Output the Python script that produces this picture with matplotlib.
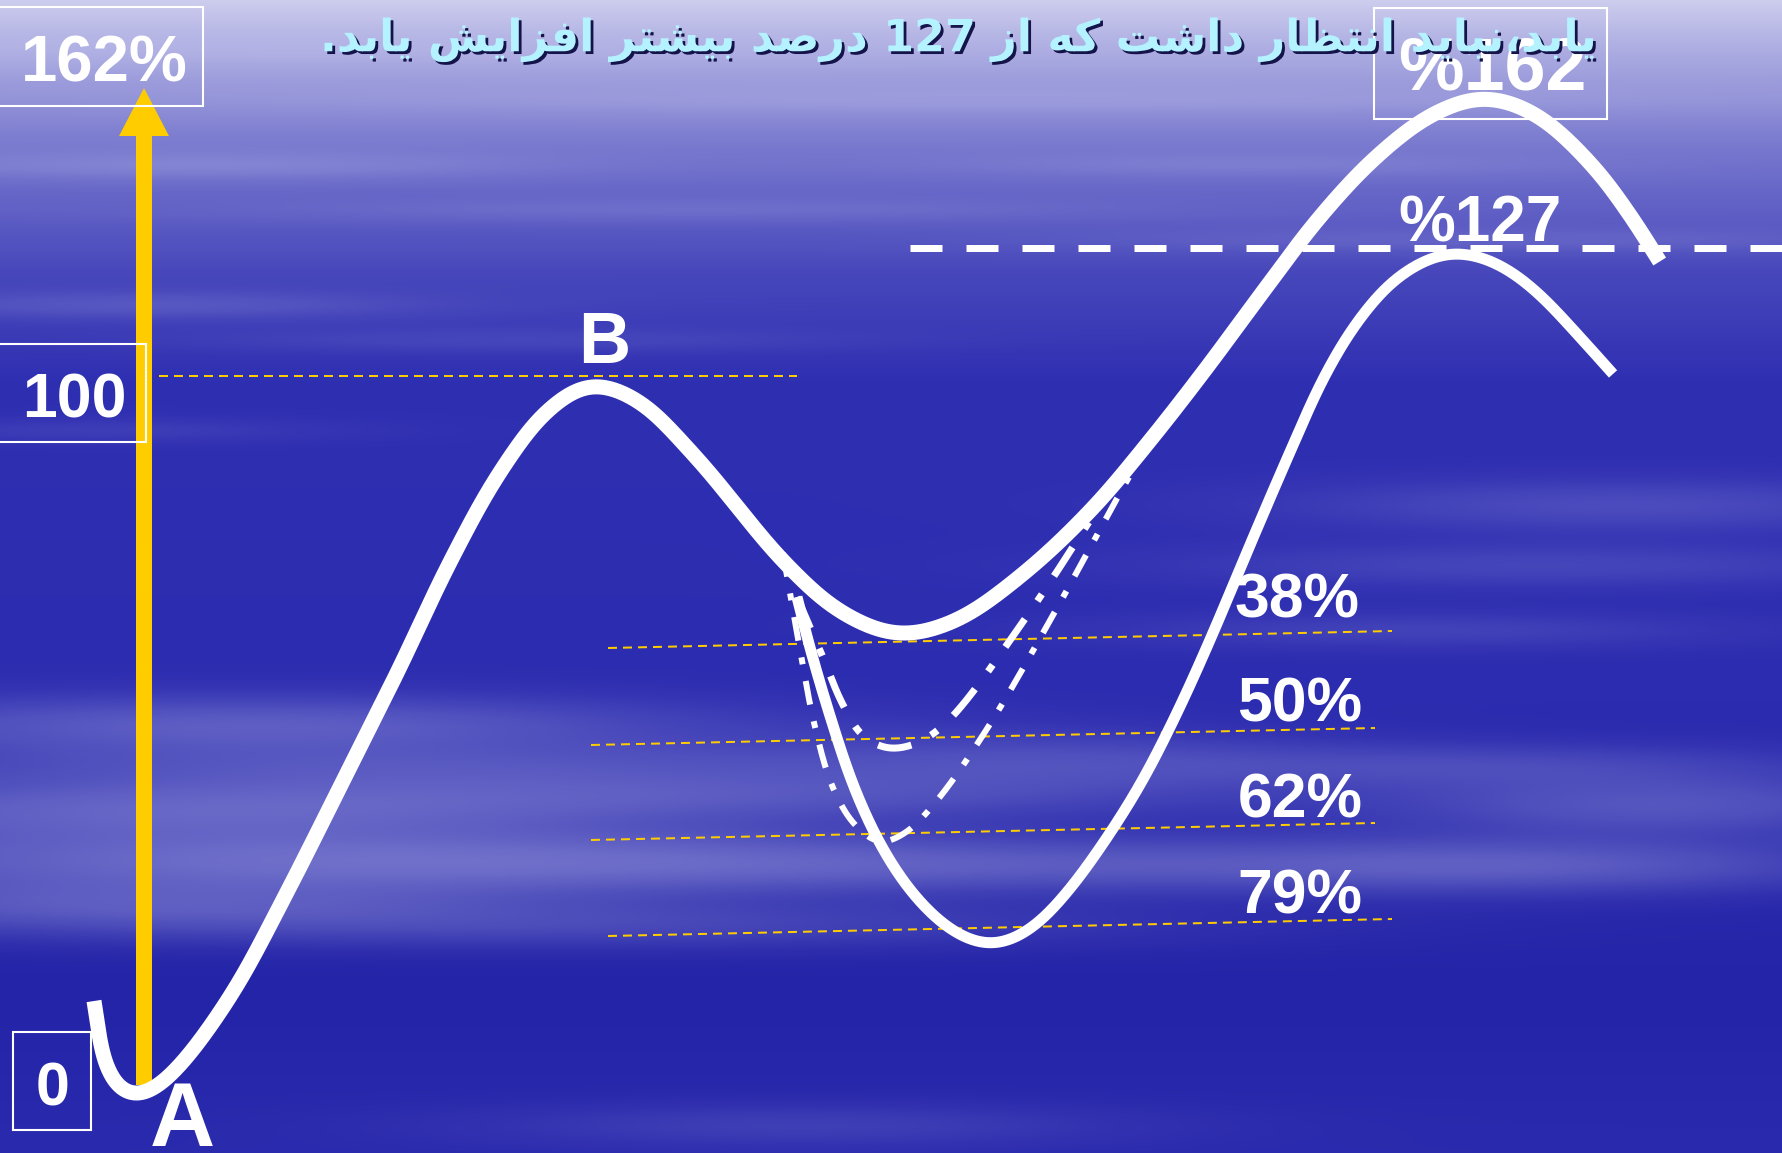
import re
import unicodedata
import numpy as np
import matplotlib
matplotlib.use("Agg")
import matplotlib.pyplot as plt
import matplotlib.patheffects as pe
from matplotlib.patches import Rectangle, FancyArrow

plt.rcParams['lines.scale_dashes'] = False

W, H = 1783, 1153

# price path A -> B -> retracement -> extension (canvas units, y grows downward)
main_x = [94, 105, 119, 134, 154, 182, 233, 284, 341, 398, 450, 500, 548, 591, 637,
          694, 785, 841, 898, 955, 1023, 1092, 1148, 1205, 1262, 1319, 1376, 1433,
          1484, 1535, 1592, 1632, 1660]
main_y = [1001, 1063, 1089, 1097, 1089, 1063, 992, 898, 785, 671, 562, 472, 410, 385, 400,
          455, 563, 612, 634, 621, 574, 509, 443, 370, 293, 218, 157, 114,
          98, 114, 165, 218, 262]

# deep 79% retracement leg that tops out at 127%
deep_x = [797, 810, 830, 855, 885, 918, 955, 992, 1030, 1065, 1100, 1140, 1176,
          1210, 1250, 1290, 1325, 1360, 1400, 1450, 1495, 1535, 1578, 1614]
deep_y = [597, 648, 716, 790, 853, 900, 933, 946, 930, 895, 848, 785, 715,
          640, 545, 452, 375, 318, 275, 252, 262, 290, 335, 375]

# alternative 50% and 62% retracements
r50_x = [797, 822, 842, 862, 887, 915, 947, 1027, 1100]
r50_y = [597, 655, 703, 735, 748, 744, 722, 616, 505]
r62_x = [783, 797, 815, 833, 855, 880, 905, 935, 985, 1052, 1115, 1150]
r62_y = [553, 633, 727, 788, 825, 842, 833, 803, 732, 617, 502, 440]

# fibonacci guide lines: (x0, y0, x1, y1)
fib_names = ['38%', '50%', '62%', '79%']
fib_lines = [(608, 648, 1392, 631), (591, 745, 1375, 728),
             (591, 840, 1375, 823), (608, 936, 1392, 919)]
fib_label_pos = [(1297, 618), (1300, 722), (1300, 818), (1300, 913)]
level_100 = (159, 376, 797, 376)
level_127_y = 248

title = 'یابد،نباید انتظار داشت که از 127 درصد بیشتر افزایش یابد.'

# background gradient stops and cloud streaks (cx, cy, sx, sy, strength)
bg_stops_y = [0, 40, 150, 270, 380, 700, 1000, 1153]
bg_stops_rgb = [(205, 205, 238), (178, 178, 228), (118, 118, 206), (72, 72, 188),
                (47, 47, 178), (44, 44, 176), (36, 36, 168), (42, 42, 174)]
clouds = [
    (300, 50, 560, 16, 0.22), (1000, 100, 700, 14, 0.20), (200, 165, 340, 14, 0.24),
    (700, 210, 460, 12, 0.14), (1500, 240, 420, 12, 0.14), (150, 305, 280, 14, 0.18),
    (520, 340, 340, 12, 0.10), (100, 430, 240, 12, 0.10), (1250, 165, 320, 12, 0.15),
    (1620, 505, 340, 26, 0.20), (1540, 565, 380, 22, 0.16), (1420, 630, 320, 18, 0.14),
    (250, 725, 480, 30, 0.32), (450, 765, 620, 26, 0.22), (180, 810, 540, 34, 0.34),
    (720, 795, 520, 24, 0.20), (320, 860, 640, 36, 0.38), (920, 865, 600, 26, 0.24),
    (130, 905, 440, 28, 0.28), (620, 925, 540, 24, 0.18), (1520, 865, 340, 28, 0.28),
    (1660, 805, 280, 32, 0.28), (1470, 765, 340, 22, 0.18), (800, 1125, 340, 22, 0.14),
    (1050, 760, 260, 32, 0.15),
]


def catmull(xs, ys, n=30, alpha=0.5):
    P = np.column_stack([xs, ys]).astype(float)
    P = np.vstack([2 * P[0] - P[1], P, 2 * P[-1] - P[-2]])
    out = []
    for i in range(1, len(P) - 2):
        p0, p1, p2, p3 = P[i - 1], P[i], P[i + 1], P[i + 2]
        t0 = 0.0
        t1 = t0 + np.linalg.norm(p1 - p0) ** alpha
        t2 = t1 + np.linalg.norm(p2 - p1) ** alpha
        t3 = t2 + np.linalg.norm(p3 - p2) ** alpha
        t = np.linspace(t1, t2, n, endpoint=False)[:, None]
        a1 = (t1 - t) / (t1 - t0) * p0 + (t - t0) / (t1 - t0) * p1
        a2 = (t2 - t) / (t2 - t1) * p1 + (t - t1) / (t2 - t1) * p2
        a3 = (t3 - t) / (t3 - t2) * p2 + (t - t2) / (t3 - t2) * p3
        b1 = (t2 - t) / (t2 - t0) * a1 + (t - t0) / (t2 - t0) * a2
        b2 = (t3 - t) / (t3 - t1) * a2 + (t - t1) / (t3 - t1) * a3
        out.append((t2 - t) / (t2 - t1) * b1 + (t - t1) / (t2 - t1) * b2)
    out.append(P[-2:-1])
    return np.vstack(out)


def smooth(xs, ys, sigma=14.0, step=1.5):
    c = catmull(xs, ys)
    d = np.r_[0, np.cumsum(np.hypot(*np.diff(c, axis=0).T))]
    s = np.arange(0, d[-1], step)
    c = np.column_stack([np.interp(s, d, c[:, 0]), np.interp(s, d, c[:, 1])])
    k = int(3 * sigma / step)
    g = np.exp(-0.5 * (np.arange(-k, k + 1) * step / sigma) ** 2)
    g /= g.sum()
    pad_l = 2 * c[0] - c[1:k + 1][::-1]
    pad_r = 2 * c[-1] - c[-k - 1:-1][::-1]
    cp = np.vstack([pad_l, c, pad_r])
    sm = np.column_stack([np.convolve(cp[:, j], g, mode='valid') for j in range(2)])
    return sm[:, 0], sm[:, 1]


RIGHT_JOIN = set('اآأإدذرزژو')


def is_letter(ch):
    return ch != '' and '\u0600' <= ch <= '\u06ff' and unicodedata.category(ch) == 'Lo'


def shape_rtl(text):
    out = []
    for i, ch in enumerate(text):
        if not is_letter(ch):
            out.append(ch)
            continue
        prev = text[i - 1] if i > 0 else ''
        nxt = text[i + 1] if i < len(text) - 1 else ''
        lp = is_letter(prev) and prev not in RIGHT_JOIN
        ln = is_letter(nxt) and ch not in RIGHT_JOIN
        form = {(False, False): 'ISOLATED', (True, False): 'FINAL',
                (False, True): 'INITIAL', (True, True): 'MEDIAL'}[(lp, ln)]
        try:
            out.append(unicodedata.lookup(unicodedata.name(ch) + ' ' + form + ' FORM'))
        except KeyError:
            out.append(ch)
    vis = ''.join(out)[::-1]
    return re.sub(r'[0-9]+', lambda m: m.group(0)[::-1], vis)


# background
yy, xx = np.mgrid[0:H, 0:W].astype(float)
base = np.stack([np.interp(yy[:, 0], bg_stops_y, [c[k] for c in bg_stops_rgb]) for k in range(3)], axis=-1)
img = np.repeat(base[:, None, :], W, axis=1)
keep = np.ones((H, W))
for cx, cy, sx, sy, a in clouds:
    keep *= 1 - a * np.exp(-((xx - cx) / sx) ** 2 - ((yy - cy) / sy) ** 2)
haze = 1 - keep
cloud_rgb = np.array([195, 195, 238.0])
img = img + haze[..., None] * (cloud_rgb - img)
img = np.clip(img / 255.0, 0, 1)

fig = plt.figure(figsize=(W / 100, H / 100), dpi=100)
ax = fig.add_axes([0, 0, 1, 1])
ax.imshow(img, extent=(0, W, H, 0), interpolation='bilinear', zorder=0)
ax.set_xlim(0, W)
ax.set_ylim(H, 0)
ax.axis('off')

gold = '#FFCC00'
px = 0.72  # pixels -> points at 100 dpi

# yellow guide lines
for x0, y0, x1, y1 in fib_lines + [level_100]:
    ax.plot([x0, x1], [y0, y1], color=gold, lw=2 * px, dashes=(9 * px, 6 * px), zorder=2)

# 127% extension line
ax.plot([910, W], [level_127_y, level_127_y], color='white', lw=7 * px,
        dashes=(32 * px, 24 * px), solid_capstyle='butt', zorder=3)

# vertical scale arrow
ax.add_patch(FancyArrow(144, 1085, 0, -997, width=16, head_width=50, head_length=48,
                        length_includes_head=True, color=gold, lw=0, zorder=2))

# label boxes
for x, y, w, h in [(-2, 7, 205, 99), (-2, 344, 148, 98), (13, 1032, 78, 98), (1374, 8, 233, 111)]:
    ax.add_patch(Rectangle((x, y), w, h, fill=False, ec='white', lw=1.5, zorder=3))

# price curves
sx, sy = smooth(main_x, main_y)
ax.plot(sx, sy, color='white', lw=15 * px, solid_capstyle='butt', zorder=5)
dx, dy = smooth(deep_x, deep_y, sigma=18)
ax.plot(dx, dy, color='white', lw=11 * px, solid_capstyle='butt', zorder=5)
ax_, ay_ = smooth(r50_x, r50_y, sigma=6)
ax.plot(ax_, ay_, color='white', lw=7 * px, dashes=(34 * px, 22 * px, 8 * px, 22 * px),
        dash_capstyle='butt', zorder=4)
bx, by = smooth(r62_x, r62_y, sigma=6)
ax.plot(bx, by, color='white', lw=6 * px, dashes=(24 * px, 17 * px, 7 * px, 17 * px),
        dash_capstyle='butt', zorder=4)

bold = dict(color='white', fontweight='bold', family='Liberation Sans', zorder=6)
ax.text(104, 82, '162%', fontsize=47, ha='center', va='baseline', **bold)
ax.text(74, 417, '100', fontsize=45, ha='center', va='baseline', **bold)
ax.text(53, 1105, '0', fontsize=44, ha='center', va='baseline', **bold)
ax.text(1492, 90, '%162', fontsize=53, ha='center', va='baseline', **bold)
ax.text(1480, 242, '%127', fontsize=46, ha='center', va='baseline', **bold)
ax.text(604, 363, 'B', fontsize=52, ha='center', va='baseline', **bold)
ax.text(182, 1146, 'A', fontsize=65, ha='center', va='baseline', **bold)
for name, (x, y) in zip(fib_names, fib_label_pos):
    ax.text(x, y, name, fontsize=45, ha='center', va='baseline', **bold)

t = ax.text(960, 40, shape_rtl(title), fontsize=40, ha='center', va='center',
            color='#B4F2FF', family='DejaVu Sans', fontweight='bold', zorder=6,
            path_effects=[pe.withSimplePatchShadow(offset=(2, -2), shadow_rgbFace='#14144a', alpha=1)])
fig.canvas.draw()
tw = t.get_window_extent().width
t.set_fontsize(40 * 1276 / tw)

fig.savefig('out.png', dpi=100)
